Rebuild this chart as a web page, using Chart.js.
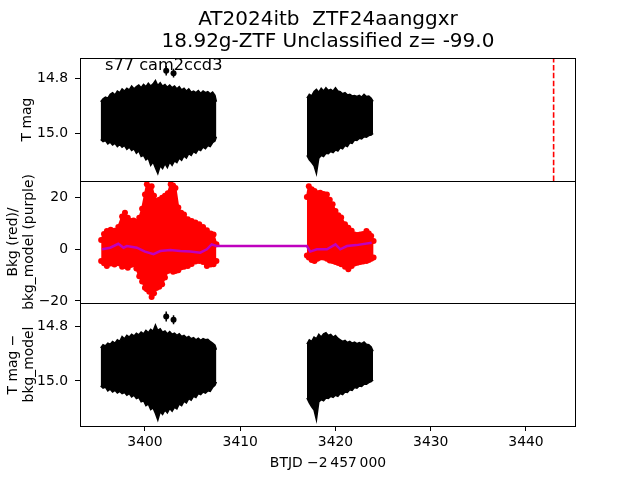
<!DOCTYPE html>
<html><head><meta charset="utf-8">
<script src="https://cdn.jsdelivr.net/npm/chart.js@4.4.1/dist/chart.umd.min.js"></script>
<style>
html,body{margin:0;padding:0;background:#fff;}
#wrap{position:relative;width:640px;height:480px;background:#fff;}
canvas{position:absolute;left:0;top:0;}
</style></head><body>
<div id="wrap">
<canvas id="c1" width="640" height="480"></canvas>
<canvas id="c2" width="640" height="480"></canvas>
<canvas id="c3" width="640" height="480"></canvas>
</div>
<script>
// ---------- text ----------
const titleLines = ['AT2024itb  ZTF24aanggxr', '18.92g-ZTF Unclassified z= -99.0'];
const panelLabel = 's77 cam2ccd3';
const yTitleTop = 'T mag';
const yTitleMid = ['Bkg (red)/', 'bkg_model (purple)'];
const yTitleBot = ['T mag \u2212', 'bkg_model'];
const xTitle = 'BTJD \u22122\u2009457\u2009000';

// ---------- ticks / ranges ----------
const xTicks = [3400, 3410, 3420, 3430, 3440];
const magTicks = [14.8, 15.0];
const bkgTicks = [-20, 0, 20];
const xRange = [3393.18, 3445.25];
const magRangeTop = [14.726, 15.173];
const bkgRange = [-20.8, 26.2];
const magRangeBot = [14.716, 15.164];

// ---------- time grids for the two observing segments ----------
const tA = [3395.35,3395.6,3395.85,3396.1,3396.35,3396.6,3396.85,3397.1,3397.35,3397.6,3397.85,3398.1,3398.35,3398.6,3398.85,3399.1,3399.35,3399.6,3399.85,3400.1,3400.35,3400.6,3400.85,3401.1,3401.35,3401.6,3401.85,3402.1,3402.35,3402.6,3402.85,3403.1,3403.35,3403.6,3403.85,3404.1,3404.35,3404.6,3404.85,3405.1,3405.35,3405.6,3405.85,3406.1,3406.35,3406.6,3406.85,3407.1,3407.35,3407.5];
const tB = [3417.0,3417.25,3417.5,3417.75,3418.0,3418.25,3418.5,3418.75,3419.0,3419.25,3419.5,3419.75,3420.0,3420.25,3420.5,3420.75,3421.0,3421.25,3421.5,3421.75,3422.0,3422.25,3422.5,3422.75,3423.0,3423.25,3423.5,3423.75,3423.95];

// ---------- top panel: T mag envelopes (hi = bright edge, lo = faint edge) ----------
const magA_hi = [14.885,14.874,14.868,14.872,14.858,14.852,14.860,14.846,14.852,14.838,14.846,14.836,14.842,14.828,14.838,14.830,14.824,14.834,14.822,14.830,14.818,14.828,14.820,14.808,14.826,14.816,14.828,14.822,14.832,14.824,14.834,14.828,14.838,14.830,14.842,14.836,14.846,14.838,14.850,14.846,14.852,14.844,14.854,14.846,14.852,14.848,14.856,14.850,14.862,14.885];
const magA_lo = [15.022,15.030,15.026,15.038,15.032,15.042,15.036,15.048,15.040,15.050,15.044,15.058,15.050,15.062,15.056,15.072,15.064,15.084,15.080,15.096,15.090,15.116,15.104,15.126,15.146,15.118,15.128,15.110,15.124,15.104,15.116,15.100,15.106,15.090,15.098,15.082,15.090,15.074,15.080,15.066,15.072,15.058,15.062,15.050,15.056,15.044,15.048,15.034,15.028,15.012];
const magB_hi = [14.872,14.858,14.864,14.848,14.840,14.850,14.836,14.846,14.834,14.844,14.840,14.846,14.834,14.846,14.848,14.856,14.852,14.860,14.858,14.864,14.862,14.866,14.862,14.868,14.858,14.866,14.864,14.872,14.884];
const magB_lo = [15.080,15.096,15.106,15.118,15.146,15.090,15.080,15.084,15.072,15.074,15.066,15.070,15.060,15.064,15.052,15.056,15.044,15.048,15.034,15.036,15.024,15.026,15.018,15.020,15.012,15.014,15.008,15.006,15.000];
const outT = [3402.23, 3403.0];
const outMag = [14.772, 14.781];
const outErr = [0.018, 0.016];
const markerT = 3442.9;

// ---------- middle panel: background (red) envelopes and bkg model (purple) ----------
const tC = [3395.4,3395.7,3396.0,3396.4,3396.8,3397.2,3397.6,3397.9,3398.2,3398.5,3398.8,3399.1,3399.4,3399.7,3400.0,3400.2,3400.45,3400.7,3400.95,3401.2,3401.5,3401.8,3402.1,3402.4,3402.7,3402.95,3403.2,3403.5,3403.8,3404.1,3404.5,3404.9,3405.3,3405.7,3406.1,3406.5,3406.9,3407.2,3407.5];
const bkgC_hi = [3.5,5.8,6.9,7.4,7.0,8.5,12.5,14.0,12.0,10.8,11.0,10.5,12.0,15.5,21.0,24.9,24.0,24.2,20.5,18.5,19.0,19.7,20.5,21.5,24.9,24.5,23.5,16.0,14.0,13.3,11.5,10.8,10.2,9.5,8.5,7.2,6.0,5.6,1.8];
const bkgC_lo = [-4.6,-5.5,-6.5,-5.6,-6.0,-5.5,-6.8,-6.5,-7.2,-6.2,-5.9,-7.5,-10.5,-12.5,-14.9,-15.5,-16.5,-18.5,-17.0,-15.0,-14.5,-13.6,-11.0,-8.5,-8.0,-8.8,-8.5,-8.2,-7.0,-6.8,-6.5,-5.8,-4.8,-4.6,-5.0,-6.5,-6.0,-5.9,-4.6];
const tD = [3417.0,3417.2,3417.5,3417.8,3418.1,3418.4,3418.75,3419.1,3419.4,3419.7,3420.0,3420.3,3420.6,3421.0,3421.35,3421.7,3422.0,3422.3,3422.6,3422.9,3423.25,3423.5,3423.75,3424.0];
const bkgD_hi = [20.0,24.2,23.0,22.3,21.5,21.7,21.2,21.0,19.0,17.2,14.6,13.0,12.1,9.5,8.2,7.0,5.6,5.4,5.6,5.8,6.9,6.0,5.0,3.1];
const bkgD_lo = [-2.5,-3.3,-4.2,-4.6,-3.8,-3.3,-3.3,-3.8,-4.4,-4.6,-5.0,-5.4,-5.9,-6.8,-7.8,-6.5,-5.6,-5.3,-5.0,-4.8,-4.6,-4.2,-3.8,-3.3];
const tM = [3395.5,3396.35,3397.2,3397.75,3398.1,3399.15,3400.0,3400.9,3401.6,3402.65,3403.7,3404.75,3405.8,3406.5,3407.0,3407.5,3417.0,3417.35,3418.05,3419.1,3420.0,3420.5,3421.2,3422.2,3423.8];
const bkgModel = [-0.1,0.5,2.0,0.5,1.15,0.5,-1.0,-2.0,-0.8,-0.4,-0.8,-1.0,-1.4,-0.1,1.8,1.15,1.15,-1.0,-0.1,-0.1,1.8,-0.1,1.15,1.5,2.4];

// ---------- bottom panel: T mag - bkg_model envelopes ----------
const dmA_hi = [14.880,14.868,14.872,14.862,14.866,14.856,14.862,14.850,14.856,14.838,14.846,14.834,14.840,14.830,14.836,14.826,14.832,14.822,14.828,14.816,14.824,14.812,14.818,14.796,14.816,14.810,14.822,14.818,14.828,14.820,14.830,14.826,14.834,14.828,14.838,14.834,14.842,14.838,14.846,14.842,14.850,14.844,14.852,14.846,14.850,14.848,14.856,14.862,14.870,14.886];
const dmA_lo = [15.018,15.026,15.022,15.036,15.030,15.040,15.034,15.044,15.038,15.046,15.042,15.052,15.046,15.058,15.052,15.064,15.060,15.076,15.072,15.090,15.084,15.104,15.098,15.118,15.142,15.112,15.122,15.106,15.116,15.100,15.110,15.096,15.102,15.084,15.090,15.074,15.080,15.064,15.070,15.056,15.060,15.046,15.050,15.040,15.044,15.036,15.038,15.024,15.016,15.004];
const dmB_hi = [14.866,14.850,14.856,14.840,14.846,14.830,14.840,14.828,14.824,14.834,14.830,14.840,14.834,14.844,14.850,14.856,14.852,14.860,14.856,14.862,14.858,14.864,14.860,14.864,14.858,14.866,14.868,14.876,14.892];
const dmB_lo = [15.062,15.080,15.094,15.106,15.142,15.076,15.068,15.072,15.062,15.064,15.056,15.060,15.052,15.056,15.046,15.050,15.040,15.042,15.032,15.034,15.024,15.026,15.018,15.020,15.012,15.012,15.006,15.002,14.996];
const outDm = [14.765, 14.777];

// ---------- helpers ----------
const FONT = "'DejaVu Sans', 'Liberation Sans', sans-serif";
Chart.defaults.font.family = FONT;
Chart.defaults.color = '#000';
const pts = (xs, ys) => xs.map((x, i) => ({x: x, y: ys[i]}));

function band(xs, hi, lo, color, bw, pr) {
  return [
    {type: 'line', data: pts(xs, hi), borderColor: color, borderWidth: bw, pointRadius: pr, pointBackgroundColor: color, pointBorderWidth: 0, fill: false, tension: 0},
    {type: 'line', data: pts(xs, lo), borderColor: color, borderWidth: bw, pointRadius: pr, pointBackgroundColor: color, pointBorderWidth: 0, fill: '-1', backgroundColor: color, tension: 0}
  ];
}
function errbars(xs, ys, es) {
  const out = xs.map((x, i) => ({type: 'line', data: [{x: x, y: ys[i] - es[i]}, {x: x, y: ys[i] + es[i]}], borderColor: '#000', borderWidth: 1.5, pointRadius: 0, fill: false}));
  out.push({type: 'scatter', data: pts(xs, ys), pointRadius: 3, pointBackgroundColor: '#000', pointBorderWidth: 0, showLine: false});
  return out;
}

const boxPlugin = {
  id: 'box',
  afterDraw(chart) {
    const {ctx, chartArea: a} = chart;
    ctx.save();
    ctx.strokeStyle = '#000';
    ctx.lineWidth = 1;
    ctx.strokeRect(Math.round(a.left) + 0.5, Math.round(a.top) + 0.5, Math.round(a.right - a.left) - 1, Math.round(a.bottom - a.top));
    ctx.restore();
  }
};
const labelPlugin = {
  id: 'panelLabel',
  afterDraw(chart) {
    const {ctx, chartArea: a} = chart;
    ctx.save();
    ctx.font = "16.2px " + FONT;
    ctx.fillStyle = '#000';
    ctx.textBaseline = 'alphabetic';
    ctx.textAlign = 'left';
    ctx.fillText(panelLabel, a.left + 25, a.top + 12);
    ctx.restore();
  }
};

function makeOptions(o) {
  return {
    responsive: false, animation: false,
    layout: {padding: {left: 0, right: 64, top: o.padTop, bottom: o.padBottom}},
    plugins: {
      legend: {display: false}, tooltip: {enabled: false},
      title: o.title ? {display: true, text: o.title, fullSize: false, color: '#000',
        font: {size: 20, weight: 'normal', lineHeight: 1.1}, padding: {top: 9, bottom: 5}} : {display: false}
    },
    scales: {
      x: {
        type: 'linear', min: xRange[0], max: xRange[1], display: o.showX,
        afterBuildTicks: s => { s.ticks = xTicks.map(v => ({value: v})); },
        afterFit: s => { if (o.showX) s.height = 54; },
        grid: {display: true, drawOnChartArea: false, drawTicks: true, tickLength: 5, color: '#000', tickColor: '#000'},
        border: {display: false},
        ticks: {autoSkip: false, maxRotation: 0, padding: 3, font: {size: 13.9}, callback: v => String(v)},
        title: {display: true, text: xTitle, font: {size: 13.9, lineHeight: 1.2}, padding: {top: 0, bottom: 8.4}}
      },
      y: {
        type: 'linear', min: o.yRange[0], max: o.yRange[1], reverse: o.reverse,
        afterBuildTicks: s => { s.ticks = o.yTicks.map(v => ({value: v})); },
        afterFit: s => { s.width = 80; },
        grid: {display: true, drawOnChartArea: false, drawTicks: true, tickLength: 5, color: '#000', tickColor: '#000'},
        border: {display: false},
        ticks: {padding: 7, font: {size: 13.9}, callback: o.fmt},
        title: {display: true, text: o.yTitle, font: {size: 13.9, lineHeight: 1.2}, padding: {top: o.titlePad, bottom: 0}}
      }
    }
  };
}
const magFmt = v => Number(v).toFixed(1);
const bkgFmt = v => String(v).replace('-', '\u2212');

// ---------- chart 1: T mag ----------
new Chart(document.getElementById('c1'), {
  type: 'line',
  data: {datasets: [
    ...band(tA, magA_hi, magA_lo, '#000', 1.5, 0),
    ...band(tB, magB_hi, magB_lo, '#000', 1.5, 0),
    ...errbars(outT, outMag, outErr),
    {type: 'line', data: [{x: markerT, y: magRangeTop[1]}, {x: markerT, y: magRangeTop[0]}], borderColor: '#ff0000', borderWidth: 1.6, borderDash: [5.5, 2.4], pointRadius: 0, fill: false}
  ]},
  options: makeOptions({padTop: 0, padBottom: 299, showX: false, yRange: magRangeTop, reverse: true, yTicks: magTicks, yTitle: yTitleTop, titlePad: 18.7, fmt: magFmt, title: titleLines}),
  plugins: [boxPlugin, labelPlugin]
});

// ---------- chart 2: background (purple model first so it is drawn on top) ----------
new Chart(document.getElementById('c2'), {
  type: 'line',
  data: {datasets: [
    {type: 'line', data: pts(tM, bkgModel), borderColor: '#bf00bf', borderWidth: 2.5, pointRadius: 0, fill: false, tension: 0},
    ...band(tC, bkgC_hi, bkgC_lo, '#ff0000', 2, 3),
    ...band(tD, bkgD_hi, bkgD_lo, '#ff0000', 2, 3)
  ]},
  options: makeOptions({padTop: 181, padBottom: 177, showX: false, yRange: bkgRange, reverse: false, yTicks: bkgTicks, yTitle: yTitleMid, titlePad: 4.7, fmt: bkgFmt}),
  plugins: [boxPlugin]
});

// ---------- chart 3: T mag - bkg_model ----------
new Chart(document.getElementById('c3'), {
  type: 'line',
  data: {datasets: [
    ...band(tA, dmA_hi, dmA_lo, '#000', 1.5, 0),
    ...band(tB, dmB_hi, dmB_lo, '#000', 1.5, 0),
    ...errbars(outT, outDm, outErr)
  ]},
  options: makeOptions({padTop: 303, padBottom: 0, showX: true, yRange: magRangeBot, reverse: true, yTicks: magTicks, yTitle: yTitleBot, titlePad: 4.7, fmt: magFmt}),
  plugins: [boxPlugin]
});
</script>
</body></html>
